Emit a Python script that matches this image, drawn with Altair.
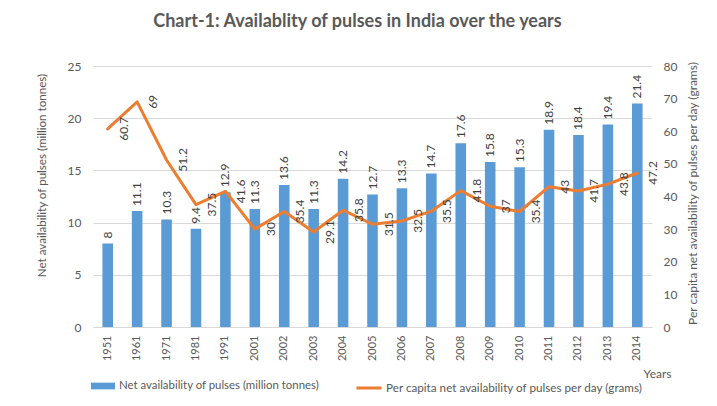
import altair as alt
import pandas as pd

years = ["1951", "1961", "1971", "1981", "1991", "2001", "2002", "2003", "2004", "2005",
         "2006", "2007", "2008", "2009", "2010", "2011", "2012", "2013", "2014"]
net_avail = [8, 11.1, 10.3, 9.4, 12.9, 11.3, 13.6, 11.3, 14.2, 12.7,
             13.3, 14.7, 17.6, 15.8, 15.3, 18.9, 18.4, 19.4, 21.4]
per_capita = [60.7, 69, 51.2, 37.5, 41.6, 30, 35.4, 29.1, 35.8, 31.5,
              32.5, 35.5, 41.8, 37, 35.4, 43, 41.7, 43.8, 47.2]
left_ticks = [0, 5, 10, 15, 20, 25]
right_ticks = [0, 10, 20, 30, 40, 50, 60, 70, 80]

name_bar = "Net availability of pulses (million tonnes)"
name_line = "Per capita net availability of pulses per day (grams)"

df = pd.DataFrame({"year": years, "net": net_avail, "pc": per_capita})

FONT = "Lato"
GREY = "#595959"
LBL = "#404040"

x = alt.X("year:N", sort=None,
          scale=alt.Scale(paddingInner=0.64, paddingOuter=0.32),
          axis=alt.Axis(title="Years", labelAngle=270, ticks=False, domainColor="#d9d9d9",
                        labelPadding=8, labelFont=FONT, labelFontSize=11, labelColor=GREY,
                        titleFont=FONT, titleFontSize=12, titleColor=GREY, titleFontWeight="normal",
                        titleX=550, titleY=46, titleAlign="left", titleBaseline="middle"))

y_left = alt.Y("net:Q", scale=alt.Scale(domain=[0, 25], nice=False),
               axis=alt.Axis(title=name_bar, values=left_ticks,
                             grid=True, gridColor="#d9d9d9", domain=False, ticks=False,
                             labelPadding=12, labelFont=FONT, labelFontSize=12, labelColor=GREY,
                             titleFont=FONT, titleFontSize=11.6, titleColor=GREY, titleFontWeight="normal",
                             titleAngle=270, titleX=-51, titleY=109, titleAlign="center",
                             titleBaseline="middle"))

y_right = alt.Y("pc:Q", scale=alt.Scale(domain=[0, 80], nice=False),
                axis=alt.Axis(orient="right", title=name_line, values=right_ticks,
                              grid=False, domain=False, ticks=False,
                              labelPadding=11, labelFont=FONT, labelFontSize=12, labelColor=GREY,
                              titleFont=FONT, titleFontSize=12, titleColor=GREY, titleFontWeight="normal",
                              titleAngle=270, titleX=40, titleY=127, titleAlign="center",
                              titleBaseline="middle"))

base = alt.Chart(df)

bar_base = base.encode(x=x, y=y_left)
bars = bar_base.transform_calculate(series="'" + name_bar + "'").mark_bar().encode(
    color=alt.Color("series:N", scale=alt.Scale(domain=[name_bar], range=["#5B9BD5"]),
                    legend=alt.Legend(orient="none", legendX=-2, legendY=308, title=None,
                                      symbolType="M-1,-0.28H1V0.28H-1Z", symbolSize=576,
                                      symbolStrokeWidth=0, labelFont=FONT, labelFontSize=11.4,
                                      labelColor=GREY, labelOffset=4, labelLimit=0)))
bar_labels = bar_base.mark_text(angle=270, align="left", baseline="middle", dx=5,
                                font=FONT, fontSize=12, color=LBL).encode(text=alt.Text("net:Q"))

line_base = base.encode(x=x, y=y_right)
line = line_base.transform_calculate(series="'" + name_line + "'").mark_line(
    strokeWidth=3, strokeJoin="round", strokeCap="round").encode(
    stroke=alt.Stroke("series:N", scale=alt.Scale(domain=[name_line], range=["#ED7D31"]),
                      legend=alt.Legend(orient="none", legendX=262, legendY=308, title=None,
                                        symbolType="stroke", symbolSize=625, symbolStrokeWidth=3,
                                        labelFont=FONT, labelFontSize=11.7, labelColor=GREY,
                                        labelOffset=3, labelLimit=0)))
line_labels = line_base.mark_text(angle=270, align="center", baseline="middle", dy=16,
                                  font=FONT, fontSize=12, color=LBL).encode(text=alt.Text("pc:Q"))

chart = alt.layer(
    alt.layer(bars, bar_labels),
    alt.layer(line, line_labels),
).resolve_scale(y="independent").properties(
    width=559, height=261,
    background="white",
    title=alt.TitleParams("Chart-1: Availablity of pulses in India over the years",
                          font=FONT, fontSize=18, fontWeight="bold", color=GREY,
                          anchor="middle", dx=-15, offset=15, baseline="alphabetic"),
    autosize=alt.AutoSizeParams(type="none"),
    padding={"left": 85, "top": 58, "right": 55, "bottom": 70},
).configure_view(stroke=None)

chart.save("out.html", embed_options={"renderer": "svg", "actions": False})
